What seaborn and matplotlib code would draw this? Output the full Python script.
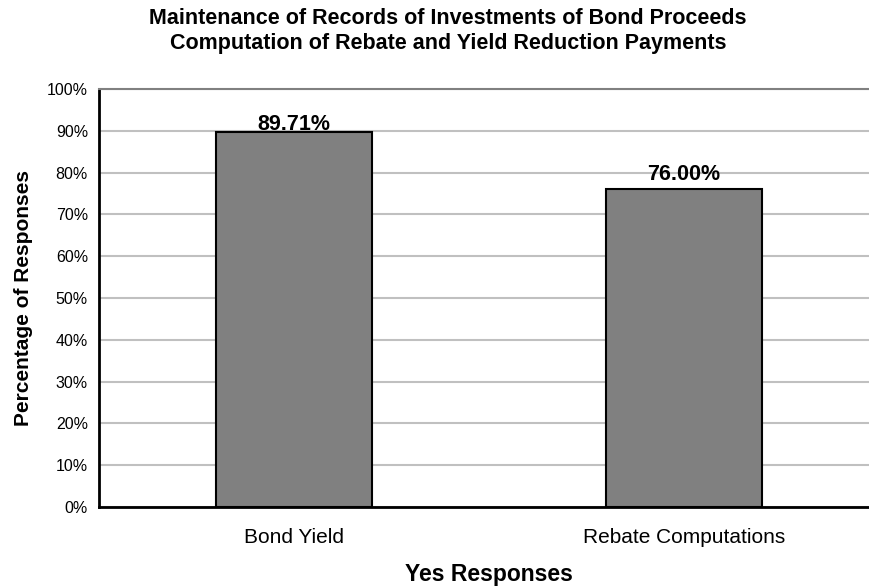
import seaborn as sns
import matplotlib.pyplot as plt
from matplotlib.ticker import FuncFormatter

# Dados do grafico
categorias = ['Bond Yield', 'Rebate Computations']
valores = [89.71, 76.00]
rotulos = ['89.71%', '76.00%']
yticks = list(range(0, 101, 10))

sns.set_style('white')
plt.rcParams['font.family'] = ['Liberation Sans', 'DejaVu Sans']
plt.rcParams['text.color'] = 'black'
plt.rcParams['axes.labelcolor'] = 'black'
plt.rcParams['xtick.color'] = 'black'
plt.rcParams['ytick.color'] = 'black'

fig = plt.figure(figsize=(8.7, 5.86), dpi=100)
# area do grafico vai um pouco alem da borda direita, como no original
ax = fig.add_axes([99 / 870, 1 - 507 / 586, 780 / 870, (507 - 89) / 586])

sns.barplot(x=categorias, y=valores, color='#808080', edgecolor='black',
            linewidth=1.5, width=0.4, saturation=1, ax=ax, zorder=3)

ax.set_ylim(0, 100)
ax.set_xlim(-0.5, 1.5)
ax.set_yticks(yticks)
ax.yaxis.set_major_formatter(FuncFormatter(lambda v, p: f'{int(v)}%'))
ax.grid(axis='y', color='#c0c0c0', linewidth=1.5, zorder=0)
ax.set_axisbelow(True)

for s in ['left', 'bottom']:
    ax.spines[s].set_color('black')
    ax.spines[s].set_linewidth(2)
ax.spines['top'].set_color('#808080')
ax.spines['top'].set_linewidth(1.5)
ax.spines['right'].set_visible(False)

ax.tick_params(axis='y', labelsize=11.5, length=0, pad=8)
ax.tick_params(axis='x', labelsize=15, length=0, pad=15)

# rotulos das barras
pads = [-2, 3]
for barra, txt, pad in zip(ax.patches, rotulos, pads):
    ax.annotate(txt, (barra.get_x() + barra.get_width() / 2, barra.get_height()),
                xytext=(0, pad), textcoords='offset points', ha='center', va='bottom',
                fontsize=15.5, fontweight='bold')

ax.set_ylabel('Percentage of Responses', fontsize=15, fontweight='bold', labelpad=10)
ax.set_xlabel('Yes Responses', fontsize=16.5, fontweight='bold', labelpad=12)

fig.text(448 / 870, 1 - 31 / 586,
         'Maintenance of Records of Investments of Bond Proceeds\nComputation of Rebate and Yield Reduction Payments',
         ha='center', va='center', fontsize=15.5, fontweight='bold', linespacing=1.25)

plt.savefig('out.png', dpi=100)
